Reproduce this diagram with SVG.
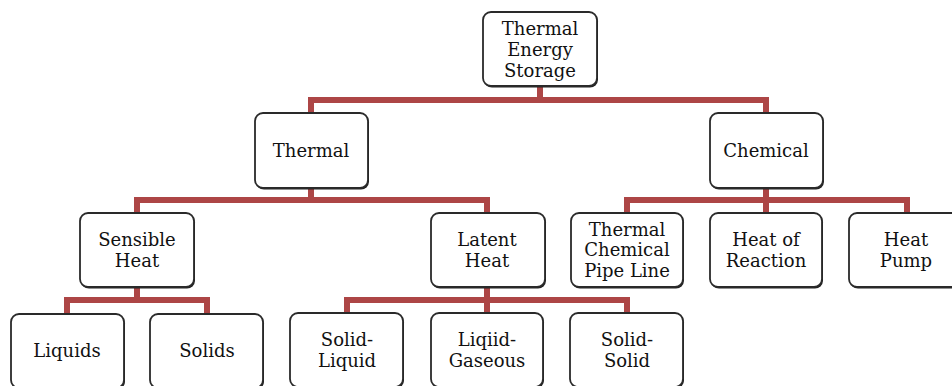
<svg xmlns="http://www.w3.org/2000/svg" width="952" height="386" viewBox="0 0 952 386">
<style>
.box{fill:#fff;stroke:#2a2a2a;stroke-width:1.8}
.sh{fill:#222;stroke:none}
.t{font-family:'DejaVu Serif',serif;font-size:18px;fill:#111;text-anchor:middle}
.c{fill:none;stroke:#ad4646;stroke-width:6;stroke-linejoin:miter;stroke-linecap:butt}
</style>
<rect width="952" height="386" fill="#fff"/>
<g id="connectors">
<path class="c" d="M311,113 V100 H766 V113 M540,86 V100"/>
<path class="c" d="M137,213 V200 H487 V213 M311,188 V200"/>
<path class="c" d="M627,213 V200 H907 V213 M766,188 V213"/>
<path class="c" d="M67,314 V300 H207 V314 M137,287 V300"/>
<path class="c" d="M347,313 V300 H627 V313 M487,287 V313"/>
</g>
<g id="n-tes"><rect class="sh" x="484" y="13.5" width="114" height="74" rx="8"/><rect class="box" x="483" y="12" width="114" height="74" rx="8"/><text class="t" x="540" y="35">Thermal</text><text class="t" x="540" y="56">Energy</text><text class="t" x="540" y="77">Storage</text></g>
<g id="n-thermal"><rect class="sh" x="256" y="114.5" width="113" height="75" rx="8"/><rect class="box" x="255" y="113" width="113" height="75" rx="8"/><text class="t" x="311" y="157">Thermal</text></g>
<g id="n-chemical"><rect class="sh" x="711" y="114.5" width="113" height="75" rx="8"/><rect class="box" x="710" y="113" width="113" height="75" rx="8"/><text class="t" x="766" y="157">Chemical</text></g>
<g id="n-sensible"><rect class="sh" x="81" y="214.5" width="114" height="74" rx="8"/><rect class="box" x="80" y="213" width="114" height="74" rx="8"/><text class="t" x="137" y="246">Sensible</text><text class="t" x="137" y="267">Heat</text></g>
<g id="n-latent"><rect class="sh" x="432" y="214.5" width="114" height="74" rx="8"/><rect class="box" x="431" y="213" width="114" height="74" rx="8"/><text class="t" x="487" y="246">Latent</text><text class="t" x="487" y="267">Heat</text></g>
<g id="n-tcpl"><rect class="sh" x="572" y="214.5" width="112" height="74" rx="8"/><rect class="box" x="571" y="213" width="112" height="74" rx="8"/><text class="t" x="627" y="236">Thermal</text><text class="t" x="627" y="256">Chemical</text><text class="t" x="627" y="277">Pipe Line</text></g>
<g id="n-hor"><rect class="sh" x="711" y="214.5" width="112" height="74" rx="8"/><rect class="box" x="710" y="213" width="112" height="74" rx="8"/><text class="t" x="766" y="246">Heat of</text><text class="t" x="766" y="267">Reaction</text></g>
<g id="n-pump"><rect class="sh" x="850" y="214.5" width="114" height="74" rx="8"/><rect class="box" x="849" y="213" width="114" height="74" rx="8"/><text class="t" x="906" y="246">Heat</text><text class="t" x="906" y="267">Pump</text></g>
<g id="n-liquids"><rect class="sh" x="12" y="315.5" width="113" height="74" rx="8"/><rect class="box" x="11" y="314" width="113" height="74" rx="8"/><text class="t" x="67" y="357">Liquids</text></g>
<g id="n-solids"><rect class="sh" x="151" y="315.5" width="113" height="74" rx="8"/><rect class="box" x="150" y="314" width="113" height="74" rx="8"/><text class="t" x="207" y="357">Solids</text></g>
<g id="n-sl"><rect class="sh" x="291" y="314.5" width="113" height="74" rx="8"/><rect class="box" x="290" y="313" width="113" height="74" rx="8"/><text class="t" x="347" y="346">Solid-</text><text class="t" x="347" y="367">Liquid</text></g>
<g id="n-lg"><rect class="sh" x="432" y="314.5" width="112" height="74" rx="8"/><rect class="box" x="431" y="313" width="112" height="74" rx="8"/><text class="t" x="487" y="346">Liqiid-</text><text class="t" x="487" y="367">Gaseous</text></g>
<g id="n-ss"><rect class="sh" x="571" y="314.5" width="113" height="74" rx="8"/><rect class="box" x="570" y="313" width="113" height="74" rx="8"/><text class="t" x="627" y="346">Solid-</text><text class="t" x="627" y="367">Solid</text></g>
</svg>
